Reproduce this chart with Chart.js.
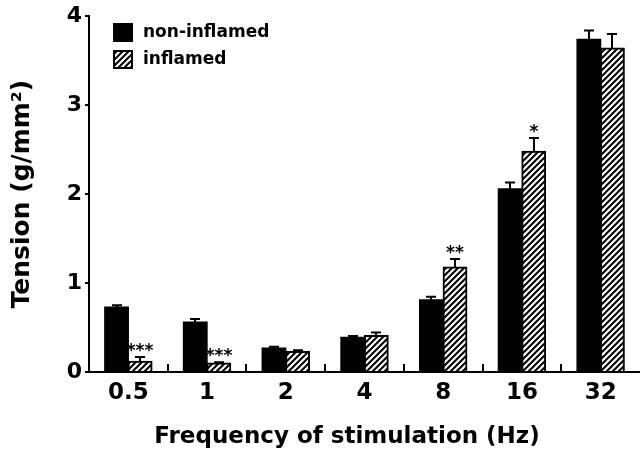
<!DOCTYPE html>
<html><head><meta charset="utf-8">
<script src="https://cdn.jsdelivr.net/npm/chart.js@4.4.1/dist/chart.umd.min.js"></script>
<style>html,body{margin:0;padding:0;background:#fff}#wrap{width:640px;height:461px;position:relative}</style>
</head><body><div id="wrap"><canvas id="c"></canvas></div>
<script>
// ---- data ----
const categories = ['0.5', '1', '2', '4', '8', '16', '32'];
const nonInflamed = [0.73, 0.56, 0.27, 0.39, 0.81, 2.06, 3.74];
const nonInflamedErr = [0.02, 0.035, 0.015, 0.015, 0.035, 0.07, 0.10];
const inflamed = [0.12, 0.10, 0.23, 0.41, 1.18, 2.48, 3.64];
const inflamedErr = [0.05, 0.01, 0.015, 0.035, 0.09, 0.15, 0.16];
const inflamedSig = ['***', '***', '', '', '**', '*', ''];
const seriesNames = ['non-inflamed', 'inflamed'];
const yTickValues = [0, 1, 2, 3, 4];
const xTitle = 'Frequency of stimulation (Hz)';
const yTitle = 'Tension (g/mm²)';

const FONT = "'DejaVu Sans', 'Liberation Sans', Arial, sans-serif";

function makeHatch() {
  const s = 6;
  const c = document.createElement('canvas');
  c.width = s; c.height = s;
  const g = c.getContext('2d');
  g.fillStyle = '#fff'; g.fillRect(0, 0, s, s);
  g.strokeStyle = '#000'; g.lineWidth = 2; g.lineCap = 'square';
  g.beginPath();
  g.moveTo(-1, s + 1); g.lineTo(s + 1, -1);
  g.moveTo(-1, 1); g.lineTo(1, -1);
  g.moveTo(s - 1, s + 1); g.lineTo(s + 1, s - 1);
  g.stroke();
  return g.createPattern(c, 'repeat');
}
const hatch = makeHatch();

const errorBars = {
  id: 'errorBars',
  afterDatasetsDraw(chart) {
    const ctx = chart.ctx;
    const ys = chart.scales.y;
    const errs = [nonInflamedErr, inflamedErr];
    ctx.save();
    ctx.strokeStyle = '#000';
    ctx.lineWidth = 2;
    chart.data.datasets.forEach((ds, di) => {
      const meta = chart.getDatasetMeta(di);
      meta.data.forEach((el, i) => {
        const v = ds.data[i];
        const top = ys.getPixelForValue(v);
        const cap = ys.getPixelForValue(v + errs[di][i]);
        const x = Math.round(el.x);
        ctx.beginPath();
        ctx.moveTo(x, top);
        ctx.lineTo(x, cap);
        ctx.moveTo(x - 5, cap);
        ctx.lineTo(x + 5, cap);
        ctx.stroke();
        if (di === 1 && inflamedSig[i]) {
          ctx.fillStyle = '#000';
          ctx.font = 'bold 17px ' + FONT;
          ctx.textAlign = 'center';
          ctx.textBaseline = 'alphabetic';
          ctx.fillText(inflamedSig[i], x, cap - 1);
        }
      });
    });
    // inner category separator ticks on x axis
    const xs = chart.scales.x;
    const yb = chart.chartArea.bottom;
    ctx.beginPath();
    for (let i = 1; i < categories.length; i++) {
      const xm = Math.round((xs.getPixelForValue(i - 1) + xs.getPixelForValue(i)) / 2);
      ctx.moveTo(xm, yb);
      ctx.lineTo(xm, yb - 8);
    }
    ctx.stroke();
    ctx.restore();
  }
};

const legendPlugin = {
  id: 'customLegend',
  afterDraw(chart) {
    const ctx = chart.ctx;
    ctx.save();
    const fills = ['#000', hatch];
    const ys = [23, 50];
    ctx.font = 'bold 17px ' + FONT;
    ctx.textBaseline = 'middle';
    ctx.textAlign = 'left';
    fills.forEach((f, i) => {
      ctx.fillStyle = f;
      ctx.fillRect(113, ys[i], 20, 19);
      ctx.strokeStyle = '#000';
      ctx.lineWidth = 2;
      ctx.strokeRect(114, ys[i] + 1, 18, 17);
      ctx.fillStyle = '#000';
      ctx.fillText(seriesNames[i], 143, ys[i] + 10);
    });
    // x axis title (centred as in the original figure, slightly left of plot centre)
    ctx.font = 'bold 23px ' + FONT;
    ctx.textAlign = 'center';
    ctx.textBaseline = 'middle';
    ctx.fillText(xTitle, 347, 437);
    ctx.restore();
  }
};

new Chart(document.getElementById('c'), {
  type: 'bar',
  data: {
    labels: categories,
    datasets: [
      { label: seriesNames[0], data: nonInflamed, backgroundColor: '#000', borderColor: '#000', borderWidth: 0, inflateAmount: 0.6 },
      { label: seriesNames[1], data: inflamed, backgroundColor: hatch, borderColor: '#000', borderWidth: 2, inflateAmount: 0.6 }
    ]
  },
  options: {
    responsive: true,
    maintainAspectRatio: false,
    animation: false,
    layout: { padding: { top: 15, right: 0, left: 0, bottom: 0 } },
    datasets: { bar: { categoryPercentage: 0.6, barPercentage: 1.0 } },
    plugins: { legend: { display: false }, tooltip: { enabled: false } },
    scales: {
      x: {
        grid: { display: false, drawTicks: false },
        border: { display: true, color: '#000', width: 2 },
        ticks: { color: '#000', font: { family: FONT, size: 23, weight: 'bold' }, padding: 7, maxRotation: 0 },
        title: { display: false },
        afterFit(scale) { scale.height = 89; }
      },
      y: {
        min: 0, max: 4,
        afterBuildTicks(scale) { scale.ticks = yTickValues.map(v => ({ value: v })); },
        grid: { drawOnChartArea: false, drawTicks: true, tickLength: 4, color: '#000', lineWidth: 2 },
        border: { display: true, color: '#000', width: 2 },
        ticks: { color: '#000', font: { family: FONT, size: 22, weight: 'bold' }, padding: 3 },
        title: { display: true, text: yTitle, color: '#000',
                 font: { family: FONT, size: 25, weight: 'bold' }, padding: { top: 7, bottom: 0 } },
        afterFit(scale) { scale.width = 89; }
      }
    }
  },
  plugins: [errorBars, legendPlugin]
});
</script>
</body></html>
